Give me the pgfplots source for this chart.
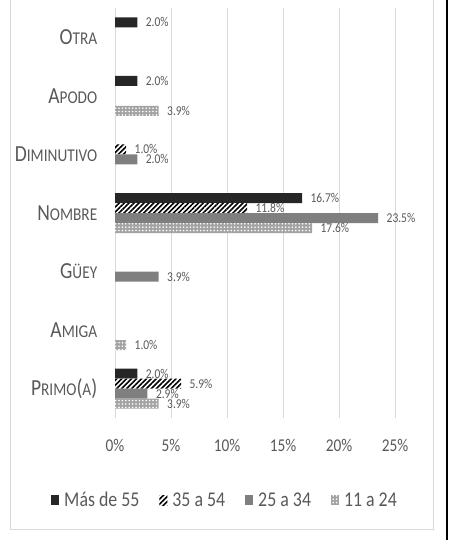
\documentclass[border=0pt]{standalone}
\usepackage{fontspec}
\setmainfont[FakeStretch=0.85]{Carlito}
\usepackage{pgfplots}
\pgfplotsset{compat=1.18}
\usetikzlibrary{patterns,patterns.meta}
\definecolor{txt}{HTML}{595959}
\definecolor{gridc}{HTML}{D9D9D9}
\definecolor{barblack}{HTML}{262626}
\definecolor{bargray}{HTML}{7F7F7F}
\definecolor{dotbg}{HTML}{A3A3A3}
\newcommand\scbig{\fontsize{23bp}{23bp}\selectfont}
\newcommand\scsml{\fontsize{18bp}{18bp}\selectfont}
\newcommand\fsc[2]{{\scbig #1}{\scsml #2}}
\begin{document}
\begin{tikzpicture}
\useasboundingbox (0,0) rectangle (451bp,540bp);
\draw[gridc,line width=1bp] (10bp,540bp) -- (10bp,10bp) -- (433bp,10bp) -- (433bp,540bp);
\draw[black,line width=2bp] (447bp,0) -- (447bp,540bp);
\begin{axis}[
  at={(115bp,122bp)}, anchor=south west,
  scale only axis, width=280bp, height=410bp,
  xmin=0, xmax=25, ymin=-0.5, ymax=6.5,
  y dir=reverse,
  xbar=0pt, bar width=10bp,
  /pgf/number format/assume math mode=true,
  axis line style={draw=none},
  major tick style={draw=none},
  xmajorgrids, grid style={gridc, line width=0.8bp},
  xtick={0,5,10,15,20,25},
  xticklabel={\pgfmathprintnumber{\tick}\%},
  xticklabel style={font=\fontsize{18bp}{18bp}\selectfont, text=txt, yshift=-18bp},
  ytick={0,1,2,3,4,5,6},
  yticklabels={\fsc{O}{TRA},\fsc{A}{PODO},\fsc{D}{IMINUTIVO},\fsc{N}{OMBRE},\fsc{G}{ÜEY},\fsc{A}{MIGA},{\fsc{P}{RIMO}{\scbig(}{\scsml A}{\scbig)}}},
  yticklabel style={text=txt, xshift=-10bp},
  nodes near coords={\pgfmathprintnumber[fixed,fixed zerofill,precision=1]{\pgfplotspointmeta}\%},
  nodes near coords style={font=\fontsize{13.5bp}{13.5bp}\selectfont, text=txt, anchor=west, xshift=5bp},
  legend columns=4,
  legend style={at={(0.393,-0.2)}, anchor=center, draw=none, fill=none,
    font=\fontsize{21bp}{21bp}\selectfont, text=txt,
    /tikz/every even column/.append style={column sep=18bp}},
  legend image code/.code={\fill[#1] (0bp,-5bp) rectangle (8bp,5bp); \path (11bp,0bp);},
]
\addplot[bar shift=15bp, fill=barblack, draw=none] coordinates {(2.0,0) (2.0,1) (16.7,3) (2.0,6)};
\addplot[bar shift=5bp, fill=white, draw=none, postaction={pattern={Lines[angle=45,distance=3.5bp,line width=1.6bp]}, pattern color=black}] coordinates {(1.0,2) (11.8,3) (5.9,6)};
\addplot[bar shift=-5bp, fill=bargray, draw=none] coordinates {(2.0,2) (23.5,3) (3.9,4) (2.9,6)};
\addplot[bar shift=-15bp, fill=dotbg, draw=none, postaction={pattern={Dots[distance=3.4bp,radius=0.9bp]}, pattern color=white}] coordinates {(3.9,1) (17.6,3) (1.0,5) (3.9,6)};
\legend{Más de 55, 35 a 54, 25 a 34, 11 a 24}
\end{axis}
\end{tikzpicture}
\end{document}
